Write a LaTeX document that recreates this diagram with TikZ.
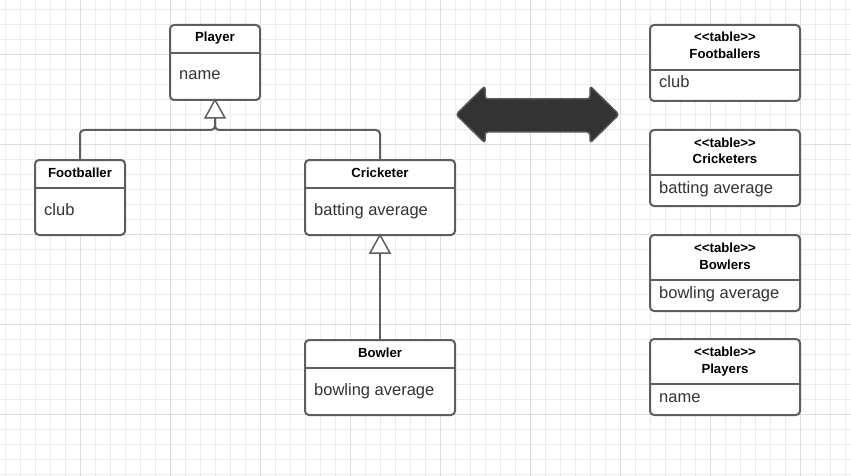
\documentclass[tikz,border=0pt]{standalone}
\usepackage{fontspec}
\newfontfamily\lib{Liberation Sans}
\usetikzlibrary{calc}
\definecolor{boxc}{RGB}{94,94,94}
\definecolor{txtc}{RGB}{51,51,51}
\definecolor{gridminor}{RGB}{236,236,236}
\definecolor{gridmajor}{RGB}{222,222,222}
\definecolor{arrowfill}{RGB}{51,51,51}
\definecolor{arrowdraw}{RGB}{85,85,85}
\begin{document}
\begin{tikzpicture}[x=1pt,y=-1pt,
  classbox/.style={draw=boxc, line width=2pt, fill=white, rounded corners=4pt,
    inner sep=0pt, outer sep=0pt, anchor=north west},
  divider/.style={draw=boxc, line width=2pt},
  hdr/.style={font=\lib\bfseries\fontsize{13.2}{15}\selectfont, text=black,
    inner sep=0pt, text height=9.5pt, text depth=2.5pt},
  body/.style={font=\lib\fontsize{16.5}{19}\selectfont, text=txtc,
    inner sep=0pt, anchor=west, text height=11.5pt, text depth=3.5pt},
  conn/.style={draw=boxc, line width=2pt, rounded corners=4pt},
  tri/.style={draw=boxc, fill=white, line width=1.5pt, line join=miter},
  minorgrid/.style={draw=gridminor, line width=0.9pt},
  majorgrid/.style={draw=gridmajor, line width=0.9pt}
]
\fill[white] (0,0) rectangle (851,476);
\useasboundingbox (0,0) rectangle (851,476);
% grid
\foreach \x in {5,20,...,845} \draw[minorgrid] (\x,0) -- (\x,476);
\foreach \y in {9,24,...,474} \draw[minorgrid] (0,\y) -- (851,\y);
\foreach \x in {80,170,...,800} \draw[majorgrid] (\x,0) -- (\x,476);
\foreach \y in {54,144,234,324,414} \draw[majorgrid] (0,\y) -- (851,\y);

% class boxes
\node[classbox, minimum width=90pt, minimum height=75pt] (player) at (170,25) {};
\node[classbox, minimum width=90pt, minimum height=75pt] (foot) at (35,160) {};
\node[classbox, minimum width=150pt, minimum height=75pt] (cric) at (305,160) {};
\node[classbox, minimum width=150pt, minimum height=75pt] (bowl) at (305,340) {};

\foreach \n/\h/\b in {player/Player/name, foot/Footballer/club, cric/Cricketer/batting average, bowl/Bowler/bowling average}{
  \draw[divider] ([yshift=-28pt]\n.north west) -- ([yshift=-28pt]\n.north east);
  \node[hdr] (\n-h) at ([yshift=-13.5pt]\n.north) {\h};
  \node[body] (\n-b) at ([xshift=9pt,yshift=-51pt]\n.north west) {\b};
}

% table boxes
\node[classbox, minimum width=150pt, minimum height=76pt] (tfoot) at (650,25) {};
\node[classbox, minimum width=150pt, minimum height=76pt] (tcric) at (650,130) {};
\node[classbox, minimum width=150pt, minimum height=76pt] (tbowl) at (650,235) {};
\node[classbox, minimum width=150pt, minimum height=76pt] (tplay) at (650,339) {};

\foreach \n/\h/\b in {tfoot/Footballers/club, tcric/Cricketers/batting average, tbowl/Bowlers/bowling average, tplay/Players/name}{
  \draw[divider] ([yshift=-45pt]\n.north west) -- ([yshift=-45pt]\n.north east);
  \node[hdr] (\n-s) at ([yshift=-13.5pt]\n.north) {<\kern0pt<table>\kern0pt>};
  \node[hdr] (\n-h) at ([yshift=-30.5pt]\n.north) {\h};
  \node[body] (\n-b) at ([xshift=9pt,yshift=-59pt]\n.north west) {\b};
}

% inheritance connectors
\coordinate (pbase) at ($(player.south)+(0,18)$);
\coordinate (pjoin) at ($(player.south)+(0,30)$);
\draw[conn] (foot.north) |- (pjoin) -- (pbase);
\draw[conn] (cric.north) |- (pjoin) -- (pbase);
\draw[tri] (player.south) -- ++(-10,18) -- ++(20,0) -- cycle;

\coordinate (cbase) at ($(cric.south)+(0,18)$);
\draw[conn] (bowl.north) -- (cbase);
\draw[tri] (cric.south) -- ++(-10,18) -- ++(20,0) -- cycle;

% double arrow
\draw[fill=arrowfill, draw=arrowdraw, line width=1.5pt, rounded corners=3pt]
  (456,114.5) -- (485,86) -- (485,99) -- (590,99) -- (590,86) -- (619,114.5)
  -- (590,143) -- (590,132) -- (485,132) -- (485,143) -- cycle;
\end{tikzpicture}
\end{document}
